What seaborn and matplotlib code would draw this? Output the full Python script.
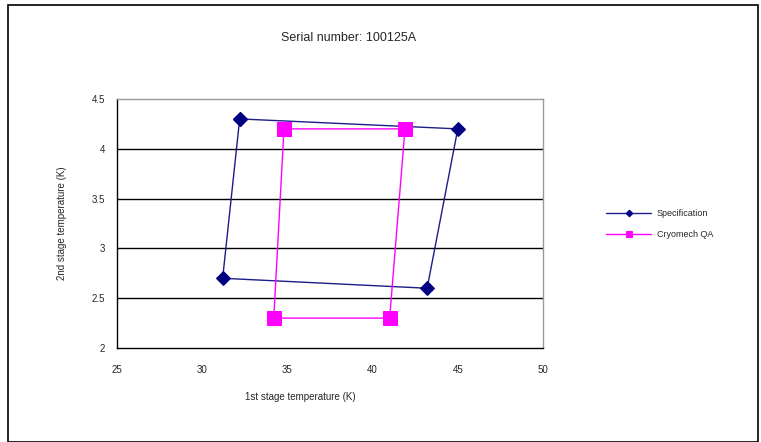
import matplotlib
matplotlib.use("Agg")
import matplotlib.pyplot as plt
import seaborn as sns
import pandas as pd
from matplotlib.patches import Rectangle

sns.set_style("white")
plt.rcParams['font.family'] = ['Liberation Sans', 'DejaVu Sans']

# Data
spec_x = [32.2, 45.0, 43.2, 31.2]
spec_y = [4.3, 4.2, 2.6, 2.7]
qa_x = [34.8, 41.9, 41.0, 34.2]
qa_y = [4.2, 4.2, 2.3, 2.3]
series_names = ["Specification", "Cryomech QA"]
x_ticks = [25, 30, 35, 40, 45, 50]
y_ticks = [2, 2.5, 3, 3.5, 4, 4.5]
y_tick_labels = ["2", "2.5", "3", "3.5", "4", "4.5"]

def closed(xs, ys, name):
    return pd.DataFrame({"x": xs + xs[:1], "y": ys + ys[:1], "series": name})

spec_df = closed(spec_x, spec_y, series_names[0])
qa_df = closed(qa_x, qa_y, series_names[1])

fig = plt.figure(figsize=(7.61, 4.42), dpi=100)
ax = fig.add_axes([117/761, 1 - 348/442, (543-117)/761, (348-99)/442])

sns.lineplot(data=spec_df, x="x", y="y", sort=False, estimator=None, ax=ax,
             color="#1c1c8a", linewidth=1.0, marker="D", markersize=7.5,
             markerfacecolor="#000080", markeredgecolor="#000080",
             label=series_names[0], legend=False)
sns.lineplot(data=qa_df, x="x", y="y", sort=False, estimator=None, ax=ax,
             color="#ff00ff", linewidth=1.0, marker="s", markersize=10,
             markerfacecolor="#ff00ff", markeredgecolor="#ff00ff",
             label=series_names[1], legend=False)

ax.set_xlim(25, 50)
ax.set_ylim(2, 4.5)
ax.set_xticks(x_ticks)
ax.set_yticks(y_ticks)
ax.set_yticklabels(y_tick_labels)
ax.set_xlabel("")
ax.set_ylabel("")
for yv in [2.5, 3, 3.5, 4]:
    ax.axhline(yv, color="black", linewidth=1.0, zorder=0)

for s in ["left", "bottom"]:
    ax.spines[s].set_color("black")
    ax.spines[s].set_linewidth(1.0)
for s in ["top", "right"]:
    ax.spines[s].set_color("#999999")
    ax.spines[s].set_linewidth(1.0)
ax.tick_params(axis="both", direction="inout", length=5, width=1, color="black",
               labelsize=7, pad=6)
ax.tick_params(axis="x", pad=10)

fig.text(349/761, 1 - 38/442, "Serial number: 100125A", ha="center", va="center", fontsize=9)
fig.text(300/761, 1 - 397/442, "1st stage temperature (K)", ha="center", va="center", fontsize=7)
fig.text(62/761, 1 - 223/442, "2nd stage temperature (K)", ha="center", va="center",
         fontsize=7, rotation=90)

handles, labels = ax.get_legend_handles_labels()
fig.legend(handles, labels, loc="center left", bbox_to_anchor=(598/761, 1 - 224/442),
           frameon=False, fontsize=6.5, handlelength=5, labelspacing=1.4, markerscale=0.45,
           handletextpad=0.6)

fig.patches.append(Rectangle((8/761, 0), (758-8)/761, 1 - 5/442, transform=fig.transFigure,
                             fill=False, edgecolor="black", linewidth=1.2))

fig.savefig("out.png", dpi=100)
